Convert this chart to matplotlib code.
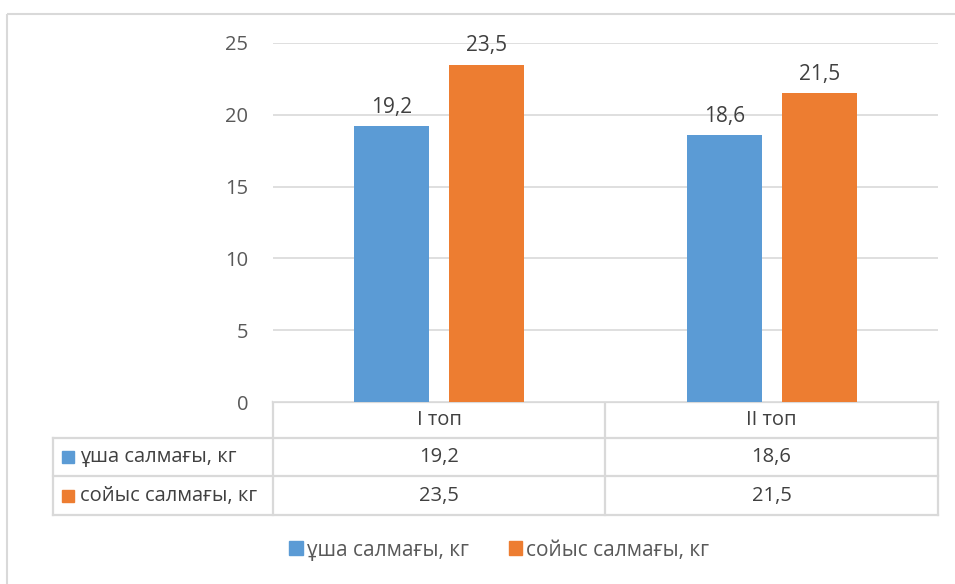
import matplotlib.pyplot as plt
from matplotlib.patches import Rectangle

plt.rcParams["font.family"] = ["Open Sans", "DejaVu Sans"]

categories = ["І топ", "ІІ топ"]
series_names = ["ұша салмағы, кг", "сойыс салмағы, кг"]
carcass = [19.2, 18.6]
slaughter = [23.5, 21.5]
y_ticks = [0, 5, 10, 15, 20, 25]
colors = ["#5B9BD5", "#ED7D31"]

W, H = 955, 584
FS = 14.5
fig = plt.figure(figsize=(W / 100, H / 100), dpi=100)


def fx(px):
    return px / W


def fy(py):
    return 1 - py / H


def fmt(v):
    return f"{v:.1f}".replace(".", ",")


# plot area (pixels): x 273..938, y 43..402
ax = fig.add_axes([fx(273), fy(402), fx(938) - fx(273), fy(43) - fy(402)])
x = range(len(categories))
bw = 0.225
gap = 0.03
b1 = ax.bar([i - bw / 2 - gap for i in x], carcass, bw, color=colors[0])
b2 = ax.bar([i + bw / 2 + gap for i in x], slaughter, bw, color=colors[1])
ax.bar_label(b1, labels=[fmt(v) for v in carcass], padding=6,
             fontsize=15, color="#404040")
ax.bar_label(b2, labels=[fmt(v) for v in slaughter], padding=6,
             fontsize=15, color="#404040")
ax.set_xlim(-0.5, len(categories) - 0.5)
ax.set_ylim(0, 25)
ax.set_yticks(y_ticks)
ax.set_yticklabels([str(t) for t in y_ticks])
ax.tick_params(axis="y", length=0, pad=18, labelsize=FS, labelcolor="#595959")
ax.set_xticks([])
ax.grid(axis="y", color="#D9D9D9", linewidth=1.2)
ax.set_axisbelow(True)
for s in ax.spines.values():
    s.set_visible(False)

# overlay in pixel coordinates for the data table and chart border
ov = fig.add_axes([0, 0, 1, 1], zorder=-1)
ov.set_xlim(0, W)
ov.set_ylim(H, 0)
ov.axis("off")
ov.patch.set_alpha(0)
ov.add_patch(Rectangle((7, 14), 1000, 1000, fill=False, edgecolor="#D9D9D9", lw=1.5))

lc = "#D9D9D9"
lw = 1.6
col_x = [273, 605, 938]
row_y = [402, 438, 476, 515]
ov.plot([273, 938], [402, 402], color=lc, lw=lw)
for yy in row_y[1:]:
    ov.plot([53, 938], [yy, yy], color=lc, lw=lw)
for xx in col_x:
    ov.plot([xx, xx], [402, 515], color=lc, lw=lw)
ov.plot([53, 53], [438, 515], color=lc, lw=lw)

tc = "#404040"
for j, cat in enumerate(categories):
    cx = (col_x[j] + col_x[j + 1]) / 2
    ov.text(cx, 420, cat, ha="center", va="center", fontsize=FS, color=tc)
    ov.text(cx, 457, fmt(carcass[j]), ha="center", va="center", fontsize=FS, color=tc)
    ov.text(cx, 495.5, fmt(slaughter[j]), ha="center", va="center", fontsize=FS, color=tc)
for k, name in enumerate(series_names):
    cy = (row_y[k + 1] + row_y[k + 2]) / 2
    ov.add_patch(Rectangle((62, cy - 6), 12, 12, color=colors[k]))
    ov.text(80, cy, name, ha="left", va="center", fontsize=FS, color=tc)

handles = [Rectangle((0, 0), 1, 1, color=c) for c in colors]
fig.legend(handles, series_names, loc="center", bbox_to_anchor=(0.523, 0.058),
           ncol=2, frameon=False, fontsize=15, labelcolor="#595959",
           handlelength=0.65, handleheight=0.65, handletextpad=0.2, columnspacing=1.9)

fig.savefig("out.png", dpi=100)
